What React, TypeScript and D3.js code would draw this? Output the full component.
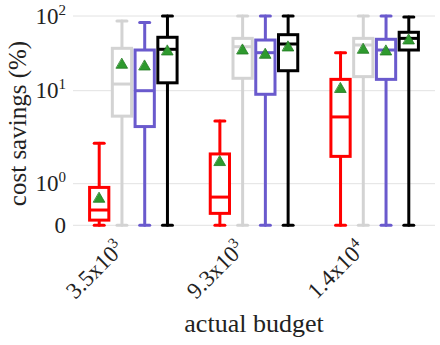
import * as d3 from "d3";

const budgets = ["3.5x10|3", "9.3x10|3", "1.4x10|4"];
const series = ["a", "b", "c", "d"];
const colors = ["#ff0000", "#d3d3d3", "#6a5acd", "#000000"];

// [min, q1, median, q3, max, mean] per budget, one array per series
const redStats = [
  [0, 0.09, 0.29, 0.88, 3.2, 0.55],
  [0, 0.22, 0.6, 2.45, 5.3, 1.96],
  [0, 2.3, 5.8, 14.4, 33, 10.5],
];
const grayStats = [
  [0, 5.9, 12.4, 37.7, 86, 22.6],
  [0, 14.9, 39.6, 51, 100, 35],
  [0, 15.7, 41.7, 51, 100, 35.8],
];
const blueStats = [
  [0, 4.7, 10, 35.8, 82, 21.4],
  [0, 9.3, 33, 48.5, 100, 30.7],
  [0, 14.4, 35.8, 49.6, 100, 34],
];
const blackStats = [
  [0, 12.9, 36.6, 52.7, 100, 34],
  [0, 18.9, 43, 57, 100, 38.4],
  [0, 35.8, 51, 61.3, 97, 47.5],
];
const allStats = [redStats, grayStats, blueStats, blackStats];

const yTicks = [0, 1, 10, 100];
const yTickLabels = ["0", "10|0", "10|1", "10|2"];

const W = 440;
const H = 345;
const left = 73;
const right = 435;

function Label({ text, sup }: { text: string; sup?: number }) {
  const [base, exp] = text.split("|");
  return (
    <>
      {base}
      {exp !== undefined && (
        <tspan dy={-9} fontSize={sup ?? 15}>
          {exp}
        </tspan>
      )}
    </>
  );
}

export default function App() {
  // stretched log axis: each decade band gets its own share
  const yt = d3
    .scaleLinear()
    .domain(yTicks.map((v) => Math.log10(1 + v)))
    .range([225.3, 183.7, 90.7, 16]);
  const y = (v: number) => yt(Math.log10(1 + v));

  const x = d3.scaleBand().domain(budgets).range([left, right]);
  const bw = x.bandwidth();
  const groupW = 91;
  const inner = d3
    .scaleBand()
    .domain(series)
    .range([(bw - groupW) / 2, (bw + groupW) / 2]);
  const boxW = inner.bandwidth() - 3.5;
  const tri = d3.symbol().type(d3.symbolTriangle).size(55)();

  return (
    <svg
      width={W}
      height={H}
      style={{ position: "absolute", left: 0, top: 0 }}
      fontFamily="'Liberation Serif', serif"
    >
      <rect width={W} height={H} fill="#fff" />
      {yTicks.map((t, i) => (
        <g key={t}>
          <line x1={left} x2={right} y1={y(t)} y2={y(t)} stroke="#e2e2e2" strokeWidth={1} />
          <text x={66} y={y(t) + 7.5} textAnchor="end" fontSize={23} fill="#222">
            <Label text={yTickLabels[i]} />
          </text>
        </g>
      ))}
      <text
        transform={`translate(26,${(43 + 204) / 2}) rotate(-90)`}
        textAnchor="middle"
        fontSize={25}
        fill="#222"
      >
        cost savings (%)
      </text>

      {budgets.map((b, bi) => (
        <g key={b} transform={`translate(${x(b)},0)`}>
          {series.map((s, si) => {
            const [mn, q1, md, q3, mx, mean] = allStats[si][bi];
            const cx = (inner(s) as number) + inner.bandwidth() / 2;
            const c = colors[si];
            return (
              <g key={s} stroke={c} strokeWidth={3} strokeLinecap="round">
                <line x1={cx} x2={cx} y1={y(mn)} y2={y(q1)} />
                <line x1={cx} x2={cx} y1={y(q3)} y2={y(mx)} />
                <line x1={cx - 5} x2={cx + 5} y1={y(mn)} y2={y(mn)} />
                <line x1={cx - 5} x2={cx + 5} y1={y(mx)} y2={y(mx)} />
                <rect
                  x={cx - boxW / 2}
                  y={y(q3)}
                  width={boxW}
                  height={y(q1) - y(q3)}
                  fill="#fff"
                  strokeLinecap="butt"
                />
                <line x1={cx - boxW / 2} x2={cx + boxW / 2} y1={y(md)} y2={y(md)} strokeLinecap="butt" />
                <path
                  d={tri as string}
                  transform={`translate(${cx},${y(mean)})`}
                  fill="#2e9a2e"
                  stroke="#1f7a1f"
                  strokeWidth={0.8}
                />
              </g>
            );
          })}
        </g>
      ))}

      {budgets.map((b) => (
        <text
          key={b}
          transform={`translate(${(x(b) as number) + bw / 2 - 8},${250}) rotate(-45)`}
          textAnchor="end"
          fontSize={23}
          fill="#222"
        >
          <Label text={b} />
        </text>
      ))}
      <text x={254} y={332} textAnchor="middle" fontSize={26} fill="#222">
        actual budget
      </text>
    </svg>
  );
}
